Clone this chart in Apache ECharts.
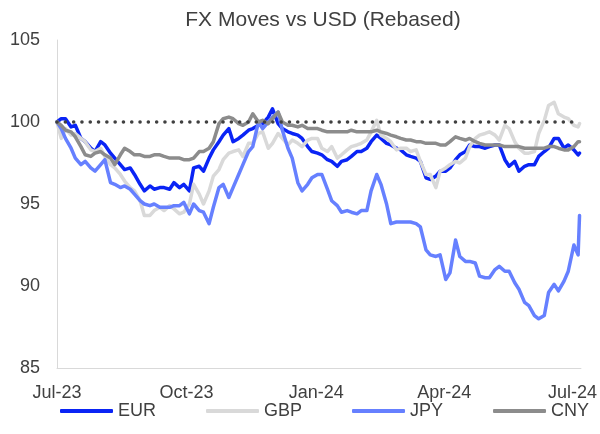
<!DOCTYPE html>
<html>
<head>
<meta charset="utf-8">
<script src="https://cdn.jsdelivr.net/npm/echarts@6/dist/echarts.min.js"></script>
<style>
  html, body { margin: 0; padding: 0; background: #fff; }
  #chart { width: 600px; height: 434px; }
</style>
</head>
<body>
<div id="chart"></div>
<script>
// Observation dates (twice weekly), rebased to 100 at 28 Jul 2023
const dates = [
  '2023-07-28',
  '2023-07-31','2023-08-03','2023-08-07','2023-08-10','2023-08-14','2023-08-17','2023-08-21','2023-08-24',
  '2023-08-28','2023-08-31','2023-09-04','2023-09-07','2023-09-11','2023-09-14','2023-09-18','2023-09-21',
  '2023-09-25','2023-09-28','2023-10-02','2023-10-05','2023-10-09','2023-10-12','2023-10-16','2023-10-19',
  '2023-10-23','2023-10-26','2023-10-30','2023-11-02','2023-11-06','2023-11-09','2023-11-13','2023-11-16',
  '2023-11-20','2023-11-23','2023-11-27','2023-11-30','2023-12-04','2023-12-07','2023-12-11','2023-12-14',
  '2023-12-18','2023-12-21','2023-12-25','2023-12-28','2024-01-01','2024-01-04','2024-01-08','2024-01-11',
  '2024-01-15','2024-01-18','2024-01-22','2024-01-25','2024-01-29','2024-02-01','2024-02-05','2024-02-08',
  '2024-02-12','2024-02-15','2024-02-19','2024-02-22','2024-02-26','2024-02-29','2024-03-04','2024-03-07',
  '2024-03-11','2024-03-14','2024-03-18','2024-03-21','2024-03-25','2024-03-28','2024-04-01','2024-04-04',
  '2024-04-08','2024-04-11','2024-04-15','2024-04-18','2024-04-22','2024-04-25','2024-04-29','2024-05-02',
  '2024-05-06','2024-05-09','2024-05-13','2024-05-16','2024-05-20','2024-05-23','2024-05-27','2024-05-30',
  '2024-06-03','2024-06-06','2024-06-10','2024-06-13','2024-06-17','2024-06-20','2024-06-24','2024-06-27',
  '2024-07-01','2024-07-04','2024-07-08','2024-07-11','2024-07-15','2024-07-18','2024-07-22','2024-07-25',
  '2024-07-29','2024-08-01',
  '2024-08-02'
];

const eur = [
  100.0,
  100.2, 100.2, 99.7, 99.8, 99.0, 98.8, 98.4, 98.2,
  98.8, 98.6, 98.1, 97.8, 97.4, 97.1, 97.2, 96.8,
  96.2, 95.8, 96.1, 95.9, 96.0, 96.0, 95.9, 96.3,
  96.0, 96.2, 95.8, 97.2, 97.3, 97.0, 97.8, 98.3,
  98.8, 99.2, 99.6, 98.8, 99.0, 99.2, 99.5, 99.6,
  99.8, 99.9, 100.3, 100.8, 99.9, 99.6, 99.4, 99.3,
  99.2, 99.0, 98.5, 98.2, 98.1, 98.0, 97.7, 97.6,
  97.3, 97.6, 97.7, 97.9, 98.2, 98.2, 98.4, 98.8,
  99.2, 99.0, 98.7, 98.6, 98.4, 98.3, 98.0, 97.9,
  97.8, 97.6, 96.6, 96.5, 96.7, 97.0, 97.0, 97.2,
  97.7, 98.0, 98.2, 98.6, 98.5, 98.5, 98.4, 98.5,
  98.6, 98.6, 97.7, 97.3, 97.6, 97.0, 97.3, 97.4,
  97.4, 97.9, 98.2, 98.4, 99.0, 99.0, 98.4, 98.6,
  98.3, 98.0,
  98.1
];

const gbp = [
  100.0,
  99.0, 99.6, 99.2, 99.3, 99.0, 98.8, 98.3, 98.2,
  98.4, 97.9, 97.4, 97.2, 96.8, 96.4, 96.0, 95.8,
  95.2, 94.3, 94.3, 94.6, 94.8, 94.6, 94.9, 94.7,
  94.4, 94.5, 95.0, 96.2, 95.6, 95.0, 95.8, 96.7,
  97.1, 97.7, 98.1, 98.2, 98.3, 97.9, 98.7, 98.7,
  99.3, 99.4, 98.4, 98.7, 99.3, 99.0, 98.6, 98.9,
  98.7, 98.5, 98.9, 99.0, 99.0, 98.4, 98.2, 98.5,
  97.8, 98.0, 98.3, 98.5, 98.6, 98.7, 98.9, 99.4,
  100.1, 99.2, 99.0, 98.8, 98.3, 98.4, 98.4, 98.2,
  98.3, 97.6, 96.8, 96.8, 96.0, 97.0, 97.2, 97.4,
  97.6, 97.5, 97.8, 98.5, 99.0, 99.2, 99.3, 99.4,
  99.2, 98.9, 99.8, 99.6, 98.8, 98.4, 98.1, 98.1,
  98.2, 99.3, 100.1, 101.0, 101.2, 100.5, 100.3, 100.2,
  99.8, 99.7,
  99.9
];

const jpy = [
  100.0,
  99.6, 99.0, 98.4, 97.8, 97.4, 97.6, 97.2, 97.0,
  97.4, 97.7, 96.3, 96.2, 96.0, 96.1, 95.9, 95.6,
  95.2, 95.0, 94.9, 95.0, 94.8, 94.8, 94.8, 94.9,
  94.9, 95.1, 94.4, 95.0, 94.6, 94.5, 93.8, 94.8,
  96.0, 96.2, 95.4, 96.0, 96.8, 97.4, 98.2, 98.5,
  100.0, 99.6, 100.0, 100.3, 100.6, 99.5, 98.4, 97.8,
  96.3, 95.8, 96.2, 96.6, 96.8, 96.8, 95.9, 95.2,
  94.9, 94.5, 94.6, 94.5, 94.4, 94.6, 94.6, 95.8,
  96.8, 96.2, 95.0, 93.8, 93.9, 93.9, 93.9, 93.9,
  93.8, 93.6, 92.2, 91.9, 91.8, 91.9, 90.4, 90.8,
  92.8, 91.8, 91.5, 91.5, 91.4, 90.6, 90.5, 90.5,
  91.0, 91.2, 90.9, 90.9, 90.2, 89.8, 89.0, 88.8,
  88.2, 88.0, 88.2, 89.6, 90.1, 89.7, 90.3, 90.9,
  92.5, 91.9,
  94.3
];

const cny = [
  100.0,
  99.8, 99.5, 99.4, 99.1, 98.5, 98.0, 97.9, 98.1,
  98.2, 98.0, 97.8, 97.4, 98.0, 98.4, 98.2, 98.0,
  98.0, 97.9, 97.9, 98.0, 98.0, 97.9, 97.8, 97.8,
  97.8, 97.7, 97.7, 97.8, 98.2, 98.2, 98.4, 98.8,
  99.9, 100.2, 100.3, 100.2, 99.9, 99.8, 100.0, 100.5,
  100.0, 100.1, 99.9, 100.2, 100.6, 100.0, 99.8, 99.8,
  99.7, 99.8, 99.6, 99.6, 99.6, 99.5, 99.4, 99.4,
  99.4, 99.4, 99.4, 99.5, 99.4, 99.4, 99.4, 99.4,
  99.5, 99.4, 99.3, 99.2, 99.1, 99.0, 98.9, 98.9,
  98.8, 98.8, 98.7, 98.7, 98.7, 98.6, 98.6, 98.8,
  99.1, 99.0, 98.9, 99.0, 98.8, 98.7, 98.6, 98.6,
  98.6, 98.6, 98.5, 98.5, 98.5, 98.5, 98.4, 98.4,
  98.4, 98.4, 98.4, 98.5, 98.5, 98.4, 98.3, 98.3,
  98.5, 98.8,
  98.8
];

// Base level (100) reference line
const baseDates = ['2023-07-28', '2024-08-02'];
const baseValues = [100, 100];

// Axis: quarterly ticks counted from the base date
const xRange = ['2023-07-28', '2024-08-03'];
const xTickDates = ['2023-07-28', '2023-10-28', '2024-01-28', '2024-04-28', '2024-07-28'];
const xTickLabels = ['Jul-23', 'Oct-23', 'Jan-24', 'Apr-24', 'Jul-24'];
const yMin = 85, yMax = 105, yStep = 5;

const toTime = d => Date.UTC(+d.slice(0, 4), +d.slice(5, 7) - 1, +d.slice(8, 10));
const pair = (xs, ys) => xs.map((d, i) => [toTime(d), ys[i]]);
const tickTimes = xTickDates.map(toTime);

const FONT = '"Liberation Sans", Arial, sans-serif';
const TEXT = '#404040';

const chart = echarts.init(document.getElementById('chart'), null, { renderer: 'canvas' });

function lineSeries(name, values, color) {
  return {
    name, type: 'line', data: pair(dates, values),
    showSymbol: false, symbol: 'none', smooth: false,
    lineStyle: { color, width: 3.5, cap: 'round', join: 'round' },
    itemStyle: { color },
    emphasis: { disabled: true },
    animation: false
  };
}

chart.setOption({
  backgroundColor: '#ffffff',
  animation: false,
  title: {
    text: 'FX Moves vs USD (Rebased)',
    left: 318, top: 5, textAlign: 'center',
    textStyle: { fontFamily: FONT, fontSize: 21, fontWeight: 'normal', color: TEXT }
  },
  legend: {
    left: 60, top: 402, padding: 0,
    itemWidth: 53, itemHeight: 4, itemGap: 50,
    icon: 'roundRect',
    textStyle: { fontFamily: FONT, fontSize: 18, color: TEXT },
    data: ['EUR', 'GBP', 'JPY', 'CNY']
  },
  grid: { left: 57, right: 16, top: 40, bottom: 66, containLabel: false },
  xAxis: {
    type: 'value',
    min: toTime(xRange[0]), max: toTime(xRange[1]),
    axisLine: { show: true, lineStyle: { color: '#D9D9D9', width: 1 } },
    axisTick: { show: false },
    splitLine: { show: false },
    axisLabel: {
      customValues: tickTimes,
      formatter: v => {
        const i = tickTimes.indexOf(v);
        return i >= 0 ? xTickLabels[i] : '';
      },
      fontFamily: FONT, fontSize: 18, color: TEXT, margin: 16
    }
  },
  yAxis: {
    type: 'value',
    min: yMin, max: yMax, interval: yStep,
    axisLine: { show: true, lineStyle: { color: '#D9D9D9', width: 1 } },
    axisTick: { show: false },
    splitLine: { show: false },
    axisLabel: { fontFamily: FONT, fontSize: 18, color: TEXT, margin: 17 }
  },
  series: [
    lineSeries('EUR', eur, '#0A24F5'),
    lineSeries('GBP', gbp, '#D9D9D9'),
    lineSeries('JPY', jpy, '#6680FF'),
    lineSeries('CNY', cny, '#8C8C8C'),
    {
      name: 'Base', type: 'line', data: pair(baseDates, baseValues),
      symbol: 'none', silent: true, z: 5,
      lineStyle: { color: '#404040', width: 3.5, type: [0.1, 8.2], cap: 'round' },
      emphasis: { disabled: true },
      animation: false
    }
  ]
});
</script>
</body>
</html>
